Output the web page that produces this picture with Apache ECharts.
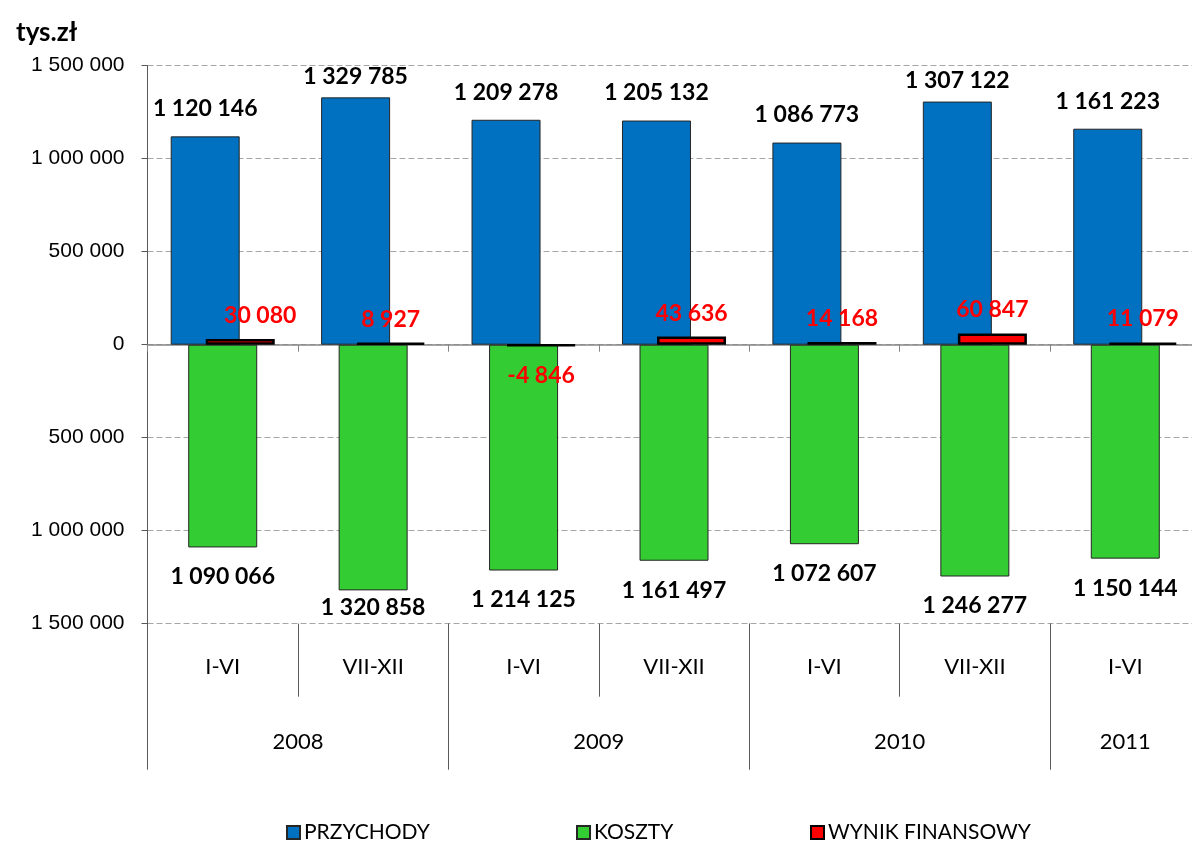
<!DOCTYPE html>
<html>
<head>
<meta charset="utf-8">
<script src="https://cdn.jsdelivr.net/npm/echarts@6/dist/echarts.min.js"></script>
<style>html,body{margin:0;padding:0;background:#fff;}#c{width:1192px;height:842px;}</style>
</head>
<body>
<div id="c"></div>
<script>
const periods = ['I-VI', 'VII-XII', 'I-VI', 'VII-XII', 'I-VI', 'VII-XII', 'I-VI'];
const years = ['2008', '2009', '2010', '2011'];
const yearSpans = [2, 2, 2, 1];
const przychody = [1120146, 1329785, 1209278, 1205132, 1086773, 1307122, 1161223];
const koszty = [-1090066, -1320858, -1214125, -1161497, -1072607, -1246277, -1150144];
const wynik = [30080, 8927, -4846, 43636, 14168, 60847, 11079];
const yMin = -1500000, yMax = 1500000, yStep = 500000;

const fmt = v => String(v).replace(/\B(?=(\d{3})+(?!\d))/g, ' ');
const fmtAbs = v => fmt(Math.abs(v));

const yearBounds = [0];
const yearMids = [];
yearSpans.forEach(s => { const a = yearBounds[yearBounds.length - 1]; yearMids.push(a + s / 2); yearBounds.push(a + s); });

const labelFont = { fontFamily: 'Lato', fontWeight: 'bold', fontSize: 23 };

const chart = echarts.init(document.getElementById('c'), null, { renderer: 'canvas' });
chart.setOption({
  animation: false,
  backgroundColor: '#ffffff',
  title: { text: 'tys.zł', left: 11, top: 15, textStyle: { fontFamily: 'Lato', fontWeight: 'bold', fontSize: 26, color: '#000' } },
  legend: [
    { data: ['PRZYCHODY'], left: 281, top: 817 },
    { data: ['KOSZTY'], left: 571, top: 817 },
    { data: ['WYNIK FINANSOWY'], left: 805, top: 817 }
  ].map(l => Object.assign(l, { icon: 'rect', itemWidth: 13, itemHeight: 13, itemGap: 0, textStyle: { fontFamily: 'Lato', fontSize: 21, color: '#000', padding: [0, 0, 0, -1] } })),
  grid: { left: 147.5, top: 65.7, width: 1053, height: 558, containLabel: false, outerBoundsMode: 'none' },
  xAxis: [
    {
      type: 'category', data: periods, gridIndex: 0,
      axisLine: { onZero: true, lineStyle: { color: '#868686', width: 1.5 } },
      axisTick: { show: true, length: 7, interval: 0, lineStyle: { color: '#868686', width: 1 } },
      axisLabel: { show: false }, splitLine: { show: false }
    },
    {
      type: 'category', data: periods, gridIndex: 0, position: 'bottom',
      axisLine: { show: false, onZero: false },
      axisTick: { show: true, length: 73, interval: 0, lineStyle: { color: '#595959', width: 1 } },
      axisLabel: { show: true, interval: 0, margin: 32, fontFamily: 'Lato', fontSize: 22, color: '#000' },
      splitLine: { show: false }
    },
    {
      type: 'value', min: 0, max: yearBounds[yearBounds.length - 1], gridIndex: 0, position: 'bottom',
      axisLine: { show: false, onZero: false },
      splitLine: { show: false },
      axisTick: { show: true, length: 146, customValues: yearBounds, lineStyle: { color: '#595959', width: 1 } },
      axisLabel: {
        show: true, customValues: yearMids, margin: 107, fontFamily: 'Lato', fontSize: 22, color: '#000',
        formatter: v => { const i = yearMids.findIndex(m => Math.abs(m - v) < 1e-6); return i >= 0 ? years[i] : ''; }
      }
    }
  ],
  yAxis: {
    type: 'value', min: yMin, max: yMax, interval: yStep,
    axisLine: { show: true, lineStyle: { color: '#595959', width: 1 } },
    axisTick: { show: true, length: 6, lineStyle: { color: '#595959', width: 1 } },
    splitLine: { show: true, lineStyle: { type: [6, 3], color: '#A6A6A6', width: 1.2 } },
    axisLabel: { formatter: fmtAbs, fontFamily: 'Liberation Sans', fontSize: 21, color: '#000', margin: 23 }
  },
  series: [
    {
      name: 'PRZYCHODY', type: 'bar', xAxisIndex: 0, barWidth: 69, barGap: '-74.6%',
      itemStyle: { color: '#0070C0', borderColor: '#262626', borderWidth: 1 },
      label: Object.assign({ show: true, position: 'top', distance: 16, color: '#000', formatter: p => fmtAbs(p.value) }, labelFont),
      data: przychody.map((v, i) => ({ value: v, label: { distance: (i === 1 || i === 5) ? 9 : 16 } }))
    },
    {
      name: 'KOSZTY', type: 'bar', xAxisIndex: 0, barWidth: 69, barGap: '-74.6%',
      itemStyle: { color: '#33CC33', borderColor: '#262626', borderWidth: 1 },
      label: Object.assign({ show: true, position: 'bottom', distance: 18, color: '#000', formatter: p => fmtAbs(p.value) }, labelFont),
      data: koszty.map((v, i) => ({ value: v, label: { distance: i === 1 ? 6 : 18 } }))
    },
    {
      name: 'WYNIK FINANSOWY', type: 'bar', xAxisIndex: 0, barWidth: 69, barGap: '-74.6%',
      itemStyle: { color: '#FF0000', borderColor: '#000000', borderWidth: 2.5 },
      label: Object.assign({ show: true, color: '#FF0000', formatter: p => fmt(p.value) }, labelFont),
      data: wynik.map((v, i) => ({
        value: v,
        label: v >= 0 ? { position: 'top', distance: 12, offset: i === 0 ? [20, 0] : [0, 0] } : { position: 'bottom', distance: 18 }
      }))
    }
  ]
});
</script>
</body>
</html>
